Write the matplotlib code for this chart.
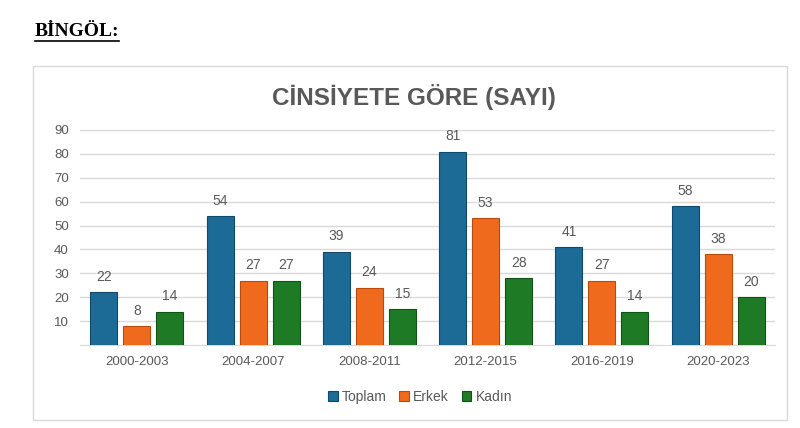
import numpy as np
import matplotlib.pyplot as plt
from matplotlib.patches import Rectangle

periods = ["2000-2003", "2004-2007", "2008-2011", "2012-2015", "2016-2019", "2020-2023"]
toplam = [22, 54, 39, 81, 41, 58]
erkek = [8, 27, 24, 53, 27, 38]
kadin = [14, 27, 15, 28, 14, 20]

series = ["Toplam", "Erkek", "Kadın"]
colors = ["#1C6A96", "#F06A1E", "#1E7A24"]
edges = ["#0F4A6C", "#B84A10", "#115218"]
gray = "#595959"


def main():
    plt.rcParams['font.family'] = ['Liberation Sans', 'DejaVu Sans']
    fig = plt.figure(figsize=(8, 4.28), dpi=100)

    # page header
    fig.text(35 / 800, 1 - 31 / 428, "BİNGÖL:", fontsize=14, fontweight="bold",
             family="Liberation Serif", va="center", ha="left")
    fig.add_artist(plt.Line2D([35 / 800, 119 / 800], [1 - 41 / 428, 1 - 41 / 428],
                              color="black", lw=1.2))

    # chart frame
    fig.add_artist(Rectangle((33 / 800, 1 - 420 / 428), 754 / 800, 354 / 428,
                             fill=False, edgecolor="#D9D9D9", lw=1))

    fig.text(414 / 800, 1 - 97 / 428, "CİNSİYETE GÖRE (SAYI)", fontsize=17.5,
             fontweight="bold", color=gray, ha="center", va="center")

    ax = fig.add_axes([80 / 800, 1 - 345 / 428, 695 / 800, 215 / 428])
    x = np.arange(len(periods))
    w = 0.233
    step = 0.284
    data = [toplam, erkek, kadin]
    for i, vals in enumerate(data):
        pos = x + (i - 1) * step
        bars = ax.bar(pos, vals, w, color=colors[i], edgecolor=edges[i],
                      linewidth=0.8, label=series[i], zorder=3)
        for b, v in zip(bars, vals):
            ax.text(b.get_x() + b.get_width() / 2, v + 3.5, str(v),
                    ha="center", va="bottom", fontsize=10, color=gray)

    ax.set_xlim(-0.49, 5.49)
    ax.set_ylim(0, 90)
    ax.set_yticks(range(10, 100, 10))
    ax.set_xticks(x)
    ax.set_xticklabels(periods)
    ax.tick_params(axis="both", length=0, labelsize=9.5, colors=gray)
    ax.tick_params(axis="x", pad=8)
    ax.tick_params(axis="y", pad=8)
    ax.grid(axis="y", color="#D9D9D9", lw=1, zorder=0)
    for s in ["top", "right", "left"]:
        ax.spines[s].set_visible(False)
    ax.spines["bottom"].set_color("#D9D9D9")

    fig.legend(loc="center", bbox_to_anchor=(420 / 800, 1 - 397 / 428), ncol=3,
               frameon=False, fontsize=10, labelcolor=gray, handlelength=0.7,
               handleheight=0.7, handletextpad=0.3, columnspacing=0.9)

    fig.savefig("out.png", dpi=100)


if __name__ == "__main__":
    main()
